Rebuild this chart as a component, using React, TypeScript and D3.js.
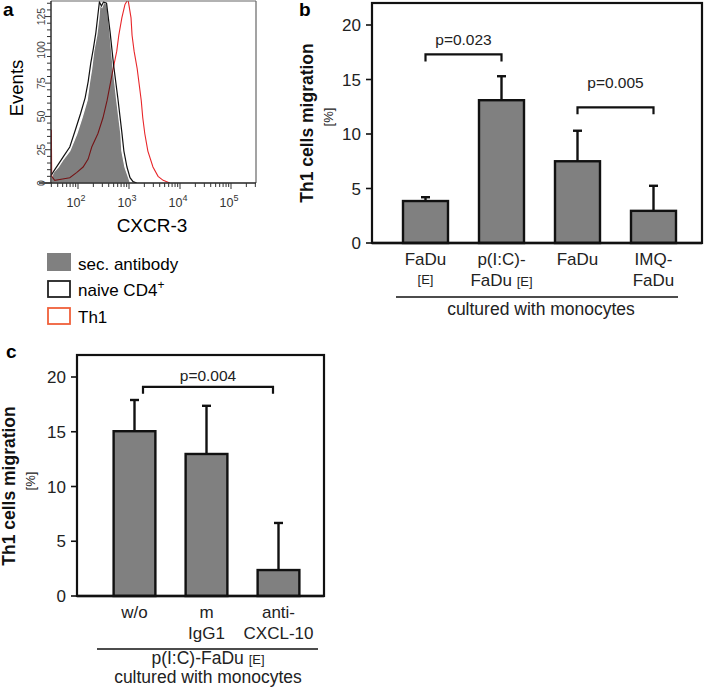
import React from "react";
import * as d3 from "d3";

// ---------- Panel a: flow cytometry histogram (CXCR-3) ----------
const secIntensity = [30, 33, 41, 52, 69, 95, 120, 151, 166, 186, 204, 234, 257, 269, 295, 324, 372, 427, 490, 575, 692, 724, 832, 1047, 1260];
const secCount = [4, 8, 12, 18, 24, 37, 49, 62, 74, 86, 99, 111, 124, 134, 132, 136, 134, 111, 86, 62, 37, 24, 12, 1, 0];

const naiveIntensity = [30, 35, 41, 52, 69, 89, 112, 138, 158, 178, 200, 224, 245, 263, 288, 316, 363, 427, 501, 603, 724, 794, 912, 1047, 1202, 1413];
const naiveCount = [6, 10, 14, 20, 27, 40, 52, 64, 76, 90, 101, 113, 126, 136, 133, 136, 135, 113, 88, 64, 38, 24, 12, 4, 1, 0];

const th1Intensity = [30, 30.5, 35, 50, 69, 95, 126, 158, 186, 245, 309, 372, 427, 490, 575, 631, 724, 832, 955, 1096, 1148, 1259, 1445, 1585, 1738, 1862, 2042, 2344, 2951, 3715, 4677, 6310];
const th1Count = [40, 5, 2, 3, 4, 8, 12, 18, 27, 37, 49, 62, 74, 86, 99, 111, 124, 134, 138, 124, 111, 99, 86, 74, 62, 49, 37, 24, 12, 5, 2, 0];

const eventTicks = [0, 25, 50, 75, 100, 125];
const decadeExps = [2, 3, 4, 5];
const legendLabels = ["sec. antibody", "naive CD4", "Th1"];

// ---------- Panel b ----------
const bCategories = ["FaDu [E]", "p(I:C)-FaDu [E]", "FaDu", "IMQ-FaDu"];
const bMeans = [3.85, 13.1, 7.5, 2.95];
const bErrors = [0.35, 2.2, 2.8, 2.3];
const bLabelLines = [["FaDu", "[E]"], ["p(I:C)-", "FaDu [E]"], ["FaDu"], ["IMQ-", "FaDu"]];
const bBrackets = [
  { from: 0, to: 1, level: 17.3, label: "p=0.023", gap: 9 },
  { from: 2, to: 3, level: 12.45, label: "p=0.005", gap: 19 },
];

// ---------- Panel c ----------
const cCategories = ["w/o", "m IgG1", "anti-CXCL-10"];
const cMeans = [15.05, 12.97, 2.37];
const cErrors = [2.85, 4.4, 4.3];
const cLabelLines = [["w/o"], ["m", "IgG1"], ["anti-", "CXCL-10"]];
const cBrackets = [{ from: 0, to: 2, level: 19.1, label: "p=0.004", gap: 6, x0: 143, x1: 273 }];

const yTicks = [0, 5, 10, 15, 20];

const FONT = "'Liberation Sans', Arial, Helvetica, sans-serif";
const BAR_FILL = "#808080";

function PanelA() {
  const L = 51, R = 256, T = 1, B = 183;
  const x = d3.scaleLog().domain([Math.pow(10, 2 - 27 / 51), Math.pow(10, 2 + 178 / 51)]).range([L, R]);
  const y = d3.scaleLinear().domain([0, 136.7]).range([B, T]);
  const pts = (xs: number[], cs: number[]) => xs.map((v, i) => [v, cs[i]] as [number, number]);
  const line = d3.line<[number, number]>().x((d) => x(d[0])).y((d) => y(Math.min(d[1], 140)));
  const area = d3.area<[number, number]>().x((d) => x(d[0])).y0(B).y1((d) => y(Math.min(d[1], 140)));

  const minor: number[] = [];
  for (let e = 1; e <= 5; e++) for (let m = 1; m <= 9; m++) {
    const v = m * Math.pow(10, e);
    if (x(v) >= L && x(v) <= R) minor.push(v);
  }
  const yMinor = d3.range(0, 136, 5);

  return (
    <g>
      <text x={3} y={16} fontSize={19} fontWeight="bold" fontFamily={FONT}>a</text>
      <defs>
        <clipPath id="clipA"><rect x={L} y={T} width={R - L} height={B - T} /></clipPath>
      </defs>
      <g clipPath="url(#clipA)">
        <path d={area(pts(secIntensity, secCount)) || ""} fill="#7f7f7f" stroke="#fff" strokeWidth={1.2} />
        <path d={line(pts(naiveIntensity, naiveCount)) || ""} fill="none" stroke="#111" strokeWidth={1.2} />
        <path d={line(pts(th1Intensity, th1Count)) || ""} fill="none" stroke="#e8262a" strokeWidth={1.1} style={{ mixBlendMode: "multiply" }} />
      </g>
      {/* frame */}
      <line x1={L} x2={R} y1={T} y2={T} stroke="#666" strokeWidth={1.2} />
      <line x1={R} x2={R} y1={T} y2={B} stroke="#666" strokeWidth={1.2} />
      <line x1={L} x2={L} y1={T} y2={B} stroke="#222" strokeWidth={1.4} />
      <line x1={L - 12} x2={R} y1={B} y2={B} stroke="#222" strokeWidth={1.4} />
      {/* y ticks */}
      {yMinor.map((v) => (
        <line key={"ym" + v} x1={L - (v % 25 === 0 ? 6 : 4)} x2={L} y1={y(v)} y2={y(v)} stroke="#333" strokeWidth={1} />
      ))}
      {eventTicks.map((v) => (
        <text key={"yt" + v} transform={`translate(${L - 6},${y(v)}) rotate(-90)`} textAnchor="middle" fontSize={10.5} fill="#444" fontFamily={FONT}>{v}</text>
      ))}
      {/* x ticks */}
      {minor.map((v, i) => {
        const major = Math.abs(Math.log10(v) - Math.round(Math.log10(v))) < 1e-6;
        return <line key={"xm" + i} x1={x(v)} x2={x(v)} y1={B} y2={B + (major ? 6 : 4)} stroke="#333" strokeWidth={1} />;
      })}
      {decadeExps.map((e) => (
        <text key={"xl" + e} x={x(Math.pow(10, e)) - 2} y={207} textAnchor="middle" fontSize={12.5} fill="#333" fontFamily={FONT}>
          10<tspan dy={-6} fontSize={9}>{e}</tspan>
        </text>
      ))}
      <text x={152} y={232} textAnchor="middle" fontSize={19} fontFamily={FONT}>CXCR-3</text>
      <text transform="translate(23,88) rotate(-90)" textAnchor="middle" fontSize={18.5} fontFamily={FONT}>Events</text>
      {/* legend */}
      <rect x={47} y={253} width={24} height={18} fill="#808080" />
      <rect x={48} y={281} width={22} height={16} fill="none" stroke="#222" strokeWidth={1.8} />
      <rect x={48} y={308} width={22} height={16} fill="none" stroke="#f0603a" strokeWidth={1.8} />
      <text x={78} y={270} fontSize={17} fontFamily={FONT}>{legendLabels[0]}</text>
      <text x={78} y={296} fontSize={17} fontFamily={FONT}>{legendLabels[1]}<tspan dy={-7} fontSize={12}>+</tspan></text>
      <text x={78} y={323} fontSize={17} fontFamily={FONT}>{legendLabels[2]}</text>
    </g>
  );
}

interface BarPanelProps {
  letter: string;
  letterPos: [number, number];
  box: { L: number; R: number; T: number; B: number };
  bandRange: [number, number];
  padInner: number;
  categories: string[];
  means: number[];
  errors: number[];
  labelLines: string[][];
  y20: number;
  tickLabelX: number;
  titleX: number;
  pctX: number;
  titleY: number;
  pctY: number;
  brackets: { from: number; to: number; level: number; label: string; gap: number; x0?: number; x1?: number }[];
  children?: React.ReactNode;
}

function BarPanel(p: BarPanelProps) {
  const { L, R, T, B } = p.box;
  const x = d3.scaleBand<string>().domain(p.categories).range(p.bandRange).paddingInner(p.padInner).paddingOuter(p.padInner / 2);
  const y = d3.scaleLinear().domain([0, 20]).range([B, p.y20]);
  const bw = x.bandwidth();
  const cx = (i: number) => (x(p.categories[i]) as number) + bw / 2;
  return (
    <g fontFamily={FONT}>
      <text x={p.letterPos[0]} y={p.letterPos[1]} fontSize={19} fontWeight="bold">{p.letter}</text>
      {p.categories.map((c, i) => {
        const x0 = x(c) as number;
        const top = y(p.means[i]);
        const errTop = y(p.means[i] + p.errors[i]);
        return (
          <g key={c}>
            <line x1={x0 + bw / 2} x2={x0 + bw / 2} y1={top} y2={errTop} stroke="#111" strokeWidth={2.4} />
            <line x1={x0 + bw / 2 - 4.5} x2={x0 + bw / 2 + 4.5} y1={errTop} y2={errTop} stroke="#111" strokeWidth={2.4} />
            <rect x={x0} y={top} width={bw} height={B - top} fill={BAR_FILL} stroke="#111" strokeWidth={2.4} />
          </g>
        );
      })}
      <rect x={L} y={T} width={R - L} height={B - T} fill="none" stroke="#111" strokeWidth={2.2} />
      <line x1={L} x2={R} y1={B} y2={B} stroke="#111" strokeWidth={2.6} />
      {yTicks.map((v) => (
        <g key={v}>
          <line x1={L - 6} x2={L} y1={y(v)} y2={y(v)} stroke="#111" strokeWidth={1.6} />
          <text x={p.tickLabelX} y={y(v)} dy="0.36em" textAnchor="end" fontSize={17} fill="#222">{v}</text>
        </g>
      ))}
      <text transform={`translate(${p.titleX},${p.titleY}) rotate(-90)`} textAnchor="middle" fontSize={17.5} fontWeight="bold" fill="#111">Th1 cells migration</text>
      <text transform={`translate(${p.pctX},${p.pctY}) rotate(-90)`} textAnchor="middle" fontSize={13} fill="#222">[%]</text>
      {p.labelLines.map((lines, i) =>
        lines.map((ln, j) => {
          const bracketE = ln.endsWith(" [E]");
          const isE = ln === "[E]";
          return (
            <text key={i + "-" + j} x={cx(i)} y={B + 22 + j * 21 + (isE ? -2 : 0)} textAnchor="middle" fontSize={isE ? 13 : 17} fill="#222">
              {bracketE ? (<>{ln.slice(0, -4)} <tspan fontSize={13}>[E]</tspan></>) : ln}
            </text>
          );
        })
      )}
      {p.brackets.map((br, k) => {
        const xa = br.x0 ?? cx(br.from);
        const xb = br.x1 ?? cx(br.to);
        const yy = y(br.level);
        return (
          <g key={k}>
            <path d={`M${xa},${yy + 7}V${yy}H${xb}V${yy + 7}`} fill="none" stroke="#111" strokeWidth={2.2} />
            <text x={(xa + xb) / 2} y={yy - br.gap} textAnchor="middle" fontSize={15.5} fill="#222">{br.label}</text>
          </g>
        );
      })}
      {p.children}
    </g>
  );
}

export default function App() {
  return (
    <svg width={708} height={694} style={{ display: "block", position: "absolute", left: 0, top: 0, background: "#fff" }}>
      <rect x={0} y={0} width={708} height={694} fill="#fff" />
      <PanelA />
      <BarPanel
        letter="b"
        letterPos={[299, 16]}
        box={{ L: 372, R: 702, T: 3, B: 243 }}
        bandRange={[387.5, 691.5]}
        padInner={0.408}
        categories={bCategories}
        means={bMeans}
        errors={bErrors}
        labelLines={bLabelLines}
        y20={25}
        tickLabelX={361}
        titleX={313}
        pctX={333}
        titleY={123}
        pctY={117}
        brackets={bBrackets}
      >
        <line x1={396} x2={678} y1={297} y2={297} stroke="#111" strokeWidth={1.6} />
        <text x={541} y={315} textAnchor="middle" fontSize={17.5} fill="#222" fontFamily={FONT}>cultured with monocytes</text>
      </BarPanel>
      <BarPanel
        letter="c"
        letterPos={[6, 358]}
        box={{ L: 77, R: 324, T: 355, B: 596 }}
        bandRange={[98.5, 314.5]}
        padInner={0.42}
        categories={cCategories}
        means={cMeans}
        errors={cErrors}
        labelLines={cLabelLines}
        y20={377}
        tickLabelX={66}
        titleX={15}
        pctX={35}
        titleY={486}
        pctY={481}
        brackets={cBrackets}
      >
        <line x1={97} x2={318} y1={649} y2={649} stroke="#111" strokeWidth={1.6} />
        <text x={208} y={664} textAnchor="middle" fontSize={17.5} fill="#222" fontFamily={FONT}>p(I:C)-FaDu <tspan fontSize={13}>[E]</tspan></text>
        <text x={208} y={683} textAnchor="middle" fontSize={17.5} fill="#222" fontFamily={FONT}>cultured with monocytes</text>
      </BarPanel>
    </svg>
  );
}
